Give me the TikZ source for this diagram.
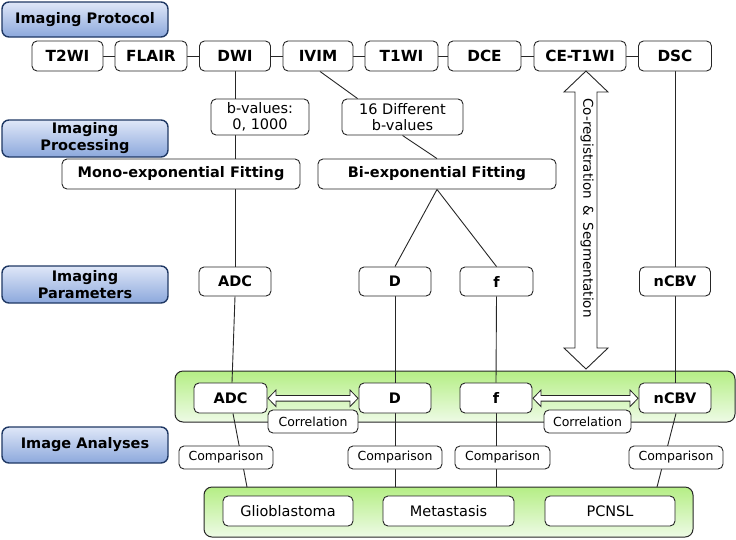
\documentclass[tikz,border=0pt]{standalone}
\usepackage{fontspec}
\setmainfont{DejaVu Sans}
\usetikzlibrary{calc}
\pgfdeclarelayer{back}
\pgfdeclarelayer{mid}
\pgfsetlayers{back,mid,main}
\definecolor{bluetop}{HTML}{DFE7F8}
\definecolor{bluebot}{HTML}{8CA8DC}
\definecolor{blueline}{HTML}{1F3864}
\definecolor{greentop}{HTML}{B5EE85}
\definecolor{greenbot}{HTML}{EEFBE6}
\tikzset{
  bbox/.style={draw=black!85, line width=0.9pt, rounded corners=5pt, fill=white, inner sep=0pt,
    font=\fontsize{14.5}{17}\selectfont\bfseries, align=center},
  tbox/.style={bbox, font=\fontsize{15.3}{17}\selectfont\bfseries},
  rbox/.style={draw=black!85, line width=0.9pt, rounded corners=5pt, fill=white, inner sep=0pt,
    font=\fontsize{12.5}{15}\selectfont, align=center},
  rbig/.style={rbox, font=\fontsize{14.5}{16}\selectfont},
  bluebox/.style={draw=blueline, line width=1.4pt, rounded corners=7pt, top color=bluetop, bottom color=bluebot,
    inner sep=0pt, minimum width=166pt, font=\fontsize{14.5}{17}\selectfont\bfseries, align=center},
  greenbox/.style={draw=black!85, line width=1pt, rounded corners=8pt, top color=greentop, bottom color=greenbot},
  conn/.style={draw=black!85, line width=0.9pt},
  arr/.style={draw=black!85, line width=0.9pt, fill=white, line join=miter},
}
\begin{document}
\begin{tikzpicture}[x=1pt,y=-1pt]
\useasboundingbox (0,0) rectangle (736,539);

% left labels
\node[bluebox, minimum height=35pt] (lp) at (85,19.5) {Imaging Protocol};
\node[bluebox, minimum height=37pt] (lproc) at (85,138.5) {Imaging\\Processing};
\node[bluebox, minimum height=37pt] (lpar) at (85,284.5) {Imaging\\Parameters};
\node[bluebox, minimum height=36pt] (lan) at (85,445) {Image Analyses};

% top row
\node[tbox, minimum width=71pt, minimum height=30pt] (t2) at (67.5,56) {T2WI};
\node[tbox, minimum width=72pt, minimum height=30pt] (fl) at (151,56) {FLAIR};
\node[tbox, minimum width=71pt, minimum height=30pt] (dwi) at (235,56) {DWI};
\node[tbox, minimum width=70pt, minimum height=30pt] (ivim) at (318,56) {IVIM};
\node[tbox, minimum width=73pt, minimum height=30pt] (t1) at (401.5,56) {T1WI};
\node[tbox, minimum width=73pt, minimum height=30pt] (dce) at (484.5,56) {DCE};
\node[tbox, minimum width=92pt, minimum height=30pt] (ce) at (580,56) {CE-T1WI};
\node[tbox, minimum width=73pt, minimum height=30pt] (dsc) at (675,56) {DSC};

% b-values
\node[rbig, minimum width=98pt, minimum height=36pt] (bval) at (260,117) {b-values:\\0, 1000};
\node[rbig, minimum width=121pt, minimum height=36pt] (bdiff) at (402.5,117) {16 Different\\b-values};

% fitting
\node[bbox, minimum width=238pt, minimum height=30pt] (mono) at (181,174) {Mono-exponential Fitting};
\node[bbox, minimum width=238pt, minimum height=30pt] (bi) at (437,174) {Bi-exponential Fitting};

% parameters
\node[bbox, minimum width=72pt, minimum height=29pt] (adc) at (235,281.5) {ADC};
\node[bbox, minimum width=72pt, minimum height=29pt] (d) at (395,281.5) {D};
\node[bbox, minimum width=73pt, minimum height=29pt] (f) at (496.5,281.5) {f};
\node[bbox, minimum width=71pt, minimum height=29pt] (ncbv) at (675,281.5) {nCBV};

% green groups
\begin{pgfonlayer}{back}
\path[greenbox] (175,371) rectangle (735,422);
\path[greenbox] (204,487) rectangle (693,537);
\end{pgfonlayer}
\coordinate (g2adc) at (247,487);
\coordinate (g2d) at (395,487);
\coordinate (g2f) at (496,487);
\coordinate (g2n) at (657,487);

% analysis row
\node[bbox, minimum width=73pt, minimum height=30pt] (adc2) at (230.5,398) {ADC};
\node[bbox, minimum width=72pt, minimum height=30pt] (d2) at (395,398) {D};
\node[bbox, minimum width=72pt, minimum height=30pt] (f2) at (496,398) {f};
\node[bbox, minimum width=72pt, minimum height=30pt] (ncbv2) at (675,398) {nCBV};

\node[rbox, minimum width=90pt, minimum height=23pt] (cor1) at (313,421.5) {Correlation};
\node[rbox, minimum width=87pt, minimum height=23pt] (cor2) at (587.5,421.5) {Correlation};

\node[rbox, minimum width=94pt, minimum height=23pt] (cmp1) at (226,457.5) {Comparison};
\node[rbox, minimum width=94pt, minimum height=23pt] (cmp2) at (395,457.5) {Comparison};
\node[rbox, minimum width=95pt, minimum height=23pt] (cmp3) at (502.5,457.5) {Comparison};
\node[rbox, minimum width=94pt, minimum height=23pt] (cmp4) at (676,457.5) {Comparison};

\node[rbig, minimum width=130pt, minimum height=30pt] (glio) at (288,511) {Glioblastoma};
\node[rbig, minimum width=131pt, minimum height=30pt] (meta) at (448.5,511) {Metastasis};
\node[rbig, minimum width=130pt, minimum height=30pt] (pcnsl) at (610,511) {PCNSL};

% connectors
\begin{pgfonlayer}{mid}
\draw[conn] (t2.east) -- (fl.west);
\draw[conn] (fl.east) -- (dwi.west);
\draw[conn] (dwi.east) -- (ivim.west);
\draw[conn] (ivim.east) -- (t1.west);
\draw[conn] (t1.east) -- (dce.west);
\draw[conn] (dce.east) -- (ce.west);
\draw[conn] (ce.east) -- (dsc.west);
\draw[conn] (dwi.south) -- (dwi.south |- bval.north);
\draw[conn] (bval.south -| dwi.south) -- (mono.north -| dwi.south);
\draw[conn] (mono.south -| adc.north) -- (adc.north);
\draw[conn] ($(ivim.south)+(2,0)$) -- ($(bdiff.north west)+(16,0)$);
\draw[conn] (bdiff.south) -- (bi.north);
\draw[conn] (bi.south) -- (d.north);
\draw[conn] (bi.south) -- (f.north);
\draw[conn] (dsc.south) -- (ncbv.north);
\draw[conn] (adc.south) -- ($(adc2.north)+(1.5,0)$);
\draw[conn] ($(adc2.south)+(2.5,0)$) -- (g2adc);
\draw[conn] (d.south) -- (d2.north);
\draw[conn] (d2.south) -- (g2d);
\draw[conn] (f.south) -- (f2.north);
\draw[conn] (f2.south) -- (g2f);
\draw[conn] (ncbv.south) -- (ncbv2.north);
\draw[conn] ($(ncbv2.south)+(1,0)$) -- (g2n);
\end{pgfonlayer}

% big double arrow
\draw[arr] (586,71) -- (608,92) -- (597,92) -- (597,348) -- (608,348) -- (586,369)
  -- (564,348) -- (575,348) -- (575,92) -- (564,92) -- cycle;
\node[rotate=-90, font=\fontsize{13.5}{15}\selectfont, inner sep=0pt] (coreg) at (587,208)
  {Co-registration \,\&\, Segmentation};

% small double arrows
\draw[arr, line width=0.8pt] (268,398.3) -- (276,390) -- (276,395.5) -- (350,395.5) -- (350,390) -- (358,398.3)
  -- (350,406.6) -- (350,401.1) -- (276,401.1) -- (276,406.6) -- cycle;
\draw[arr, line width=0.8pt] (533,398.3) -- (541,390) -- (541,395.5) -- (630,395.5) -- (630,390) -- (638,398.3)
  -- (630,406.6) -- (630,401.1) -- (541,401.1) -- (541,406.6) -- cycle;
\end{tikzpicture}
\end{document}
